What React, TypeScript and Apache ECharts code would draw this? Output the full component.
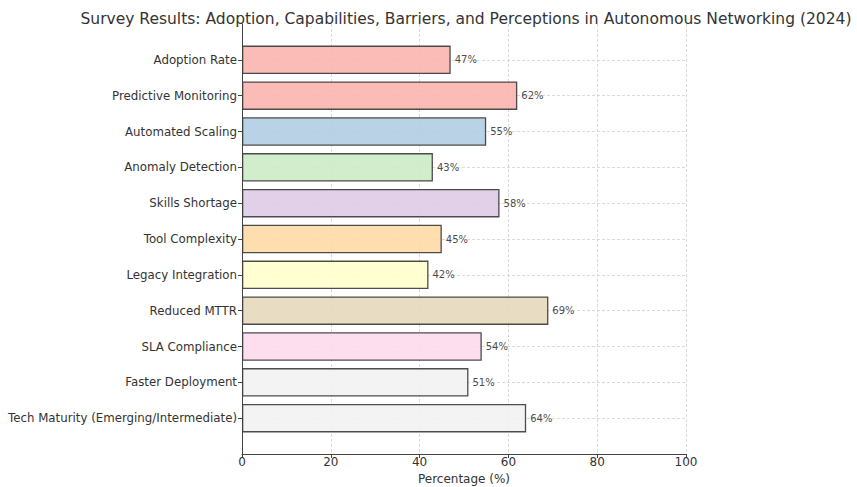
import React, { useEffect, useRef } from "react";
import * as echarts from "echarts";

const categories = [
  "Adoption Rate",
  "Predictive Monitoring",
  "Automated Scaling",
  "Anomaly Detection",
  "Skills Shortage",
  "Tool Complexity",
  "Legacy Integration",
  "Reduced MTTR",
  "SLA Compliance",
  "Faster Deployment",
  "Tech Maturity (Emerging/Intermediate)",
];
const values = [47, 62, 55, 43, 58, 45, 42, 69, 54, 51, 64];
const barColors = [
  "#fbb4ae", "#fbb4ae", "#b3cde3", "#ccebc5", "#decbe4", "#fed9a6",
  "#ffffcc", "#e5d8bd", "#fddaec", "#f2f2f2", "#f2f2f2",
];
const xTicks = { min: 0, max: 100, interval: 20 };
const title = "Survey Results: Adoption, Capabilities, Barriers, and Perceptions in Autonomous Networking (2024)";

const FONT = "DejaVu Sans";
const INK = "#333333";

export default function App() {
  const ref = useRef<HTMLDivElement>(null);
  useEffect(() => {
    if (!ref.current) return;
    const chart = echarts.init(ref.current, null, { renderer: "svg" });
    const axisData = ["", ...categories, ""];
    const n = axisData.length;
    const splitColors = axisData.map((_, i) => (i === 0 || i === n - 1 ? "rgba(0,0,0,0)" : "#d0d0d0"));
    chart.setOption({
      animation: false,
      backgroundColor: "#ffffff",
      title: {
        text: title,
        left: 461,
        textAlign: "center",
        top: 6,
        textStyle: { fontFamily: FONT, fontSize: 15.5, fontWeight: "normal", color: INK },
      },
      grid: {
        left: 242,
        right: 171,
        top: 24,
        height: 430,
        containLabel: false,
        outerBoundsMode: "none",
      },
      xAxis: {
        type: "value",
        min: xTicks.min,
        max: xTicks.max,
        interval: xTicks.interval,
        name: "Percentage (%)",
        nameLocation: "middle",
        nameGap: 15,
        nameTextStyle: { fontFamily: FONT, fontSize: 12, color: INK },
        axisLine: { show: true, lineStyle: { color: "#444", width: 1 } },
        axisTick: { show: true, length: 4, lineStyle: { color: "#444" } },
        axisLabel: { fontFamily: FONT, fontSize: 12, color: INK, margin: 2 },
        splitLine: { show: true, lineStyle: { color: "#d0d0d0", type: [3, 2], width: 0.8 } },
      },
      yAxis: {
        type: "category",
        data: axisData,
        inverse: true,
        boundaryGap: false,
        axisLine: { show: true, lineStyle: { color: "#444", width: 1 } },
        axisTick: {
          show: true,
          length: 4,
          interval: (i: number) => i > 0 && i < n - 1,
          lineStyle: { color: "#444" },
        },
        axisLabel: {
          interval: (i: number) => i > 0 && i < n - 1,
          fontFamily: FONT,
          fontSize: 11.8,
          color: INK,
          margin: 5,
        },
        splitLine: {
          show: true,
          interval: 0,
          lineStyle: { color: splitColors, type: [3, 2], width: 0.8 },
        },
      },
      series: [
        {
          type: "bar",
          data: ["-", ...values, "-"],
          barWidth: 28.5,
          itemStyle: {
            color: (p: any) => barColors[(p.dataIndex - 1 + barColors.length) % barColors.length],
            borderColor: "#3a3a3a",
            borderWidth: 1.3,
            opacity: 0.9,
          },
          label: {
            show: true,
            position: "right",
            distance: 4,
            formatter: "{c}%",
            fontFamily: FONT,
            fontSize: 10,
            color: INK,
          },
        },
      ],
    });
    return () => chart.dispose();
  }, []);
  return <div ref={ref} style={{ width: 857, height: 487, position: "absolute", left: 0, top: 0 }} />;
}
